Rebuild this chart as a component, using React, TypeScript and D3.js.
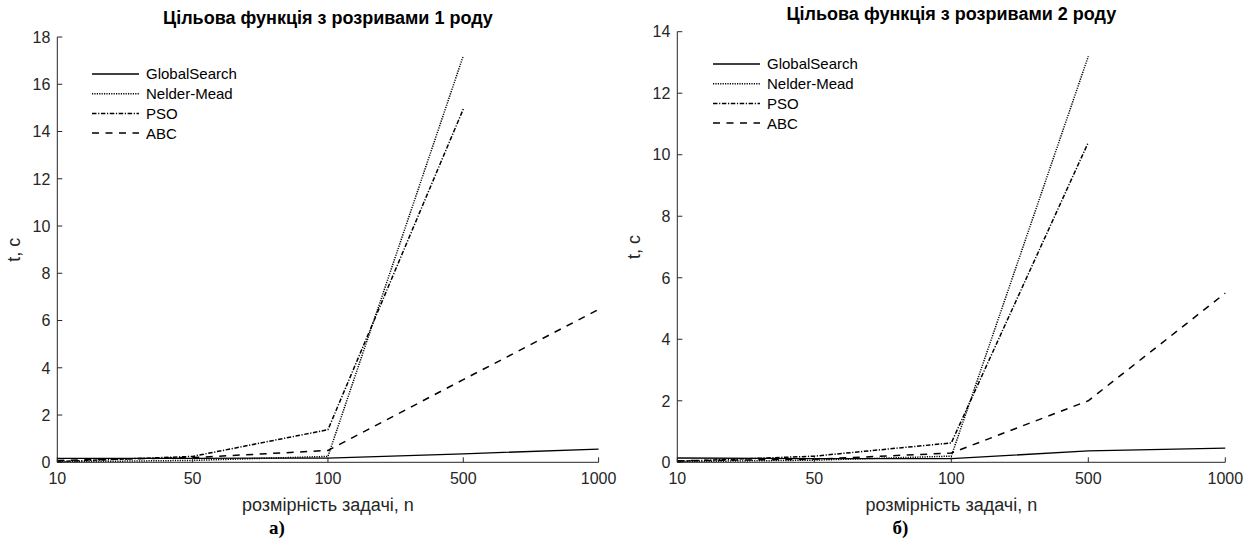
import React from "react";
import * as d3 from "d3";

// ---- data ----
const categories = ["10", "50", "100", "500", "1000"];
const seriesNames = ["GlobalSearch", "Nelder-Mead", "PSO", "ABC"];

// Panel a) - discontinuities of the 1st kind
const globalSearch1 = [0.17, 0.17, 0.18, 0.36, 0.56];
const nelderMead1 = [0.02, 0.08, 0.25, 17.2];
const pso1 = [0.03, 0.25, 1.38, 14.95];
const abc1 = [0.08, 0.2, 0.5, 3.5, 6.47];
const yTicks1 = [0, 2, 4, 6, 8, 10, 12, 14, 16, 18];

// Panel б) - discontinuities of the 2nd kind
const globalSearch2 = [0.14, 0.12, 0.12, 0.37, 0.46];
const nelderMead2 = [0.02, 0.07, 0.2, 13.2];
const pso2 = [0.03, 0.2, 0.63, 10.4];
const abc2 = [0.05, 0.1, 0.3, 2.0, 5.5];
const yTicks2 = [0, 2, 4, 6, 8, 10, 12, 14];

const titles = ["Цільова функція з розривами 1 роду", "Цільова функція з розривами 2 роду"];
const xLabel = "розмірність задачі, n";
const yLabel = "t, с";
const captions = ["а)", "б)"];

// ---- styles ----
const dashes = ["", "1.2,1.2", "4.5,1.6,1.2,1.6", "7,6.5"];
const widths = [1.3, 1.5, 1.5, 1.5];
const FONT = "'Liberation Sans', Arial, sans-serif";

type PanelCfg = {
  left: number;
  right: number;
  top: number;
  bottom: number;
  yMax: number;
  yTicks: number[];
  series: number[][];
  title: string;
  titleY: number;
  caption: string;
  legendX: number;
  legendY: number;
};

const panels: PanelCfg[] = [
  {
    left: 57.3, right: 598.6, top: 37, bottom: 462.3, yMax: 18, yTicks: yTicks1,
    series: [globalSearch1, nelderMead1, pso1, abc1], title: titles[0], titleY: 24,
    caption: captions[0], legendX: 92, legendY: 74,
  },
  {
    left: 677.3, right: 1225.3, top: 31.7, bottom: 462.3, yMax: 14, yTicks: yTicks2,
    series: [globalSearch2, nelderMead2, pso2, abc2], title: titles[1], titleY: 20,
    caption: captions[1], legendX: 713, legendY: 64,
  },
];

function Panel({ cfg }: { cfg: PanelCfg }) {
  const x = d3.scalePoint<string>().domain(categories).range([cfg.left, cfg.right]);
  const y = d3.scaleLinear().domain([0, cfg.yMax]).range([cfg.bottom, cfg.top]);
  const line = d3
    .line<number>()
    .x((_, i) => x(categories[i]) as number)
    .y((d) => y(d));
  const cx = (cfg.left + cfg.right) / 2;
  const cy = (cfg.top + cfg.bottom) / 2;
  return (
    <g>
      {/* lines */}
      {cfg.series.map((s, i) => (
        <path
          key={i}
          d={line(s) || ""}
          fill="none"
          stroke="#000"
          strokeWidth={widths[i]}
          strokeDasharray={dashes[i] || undefined}
        />
      ))}
      {/* axes */}
      <line x1={cfg.left} x2={cfg.left} y1={cfg.top} y2={cfg.bottom} stroke="#262626" strokeWidth={1} />
      <line x1={cfg.left} x2={cfg.right} y1={cfg.bottom} y2={cfg.bottom} stroke="#262626" strokeWidth={1} />
      {cfg.yTicks.map((t) => (
        <g key={"y" + t}>
          <line x1={cfg.left} x2={cfg.left + 5} y1={y(t)} y2={y(t)} stroke="#262626" />
          <text x={cfg.left - 7} y={y(t)} dy="0.36em" textAnchor="end" fontSize={16} fontFamily={FONT} fill="#262626">
            {t}
          </text>
        </g>
      ))}
      {categories.map((c) => (
        <g key={"x" + c}>
          <line x1={x(c)} x2={x(c)} y1={cfg.bottom} y2={cfg.bottom - 5} stroke="#262626" />
          <text x={x(c)} y={cfg.bottom + 22} textAnchor="middle" fontSize={16} fontFamily={FONT} fill="#262626">
            {c}
          </text>
        </g>
      ))}
      {/* labels */}
      <text x={cx} y={cfg.titleY} textAnchor="middle" fontSize={18} fontWeight="bold" fontFamily={FONT} fill="#000">
        {cfg.title}
      </text>
      <text x={cx} y={511} textAnchor="middle" fontSize={18} fontFamily={FONT} fill="#262626">
        {xLabel}
      </text>
      <text
        transform={`translate(${cfg.left - 37},${cy}) rotate(-90)`}
        textAnchor="middle"
        fontSize={18}
        fontFamily={FONT}
        fill="#262626"
      >
        {yLabel}
      </text>
      <text x={cx - 51} y={534} textAnchor="middle" fontSize={19} fontWeight="bold" fontFamily="'Liberation Serif', 'Times New Roman', serif" fill="#000">
        {cfg.caption}
      </text>
      {/* legend */}
      {seriesNames.map((n, i) => {
        const ly = cfg.legendY + i * 19.7;
        return (
          <g key={n}>
            <line
              x1={cfg.legendX}
              x2={cfg.legendX + 47}
              y1={ly}
              y2={ly}
              stroke="#000"
              strokeWidth={widths[i]}
              strokeDasharray={dashes[i] || undefined}
            />
            <text x={cfg.legendX + 54} y={ly} dy="0.36em" fontSize={15} fontFamily={FONT} fill="#000">
              {n}
            </text>
          </g>
        );
      })}
    </g>
  );
}

export default function App() {
  return (
    <svg
      width={1253}
      height={545}
      style={{ position: "absolute", left: 0, top: 0, background: "#fff" }}
    >
      <rect width={1253} height={545} fill="#fff" />
      {panels.map((p, i) => (
        <Panel key={i} cfg={p} />
      ))}
    </svg>
  );
}
